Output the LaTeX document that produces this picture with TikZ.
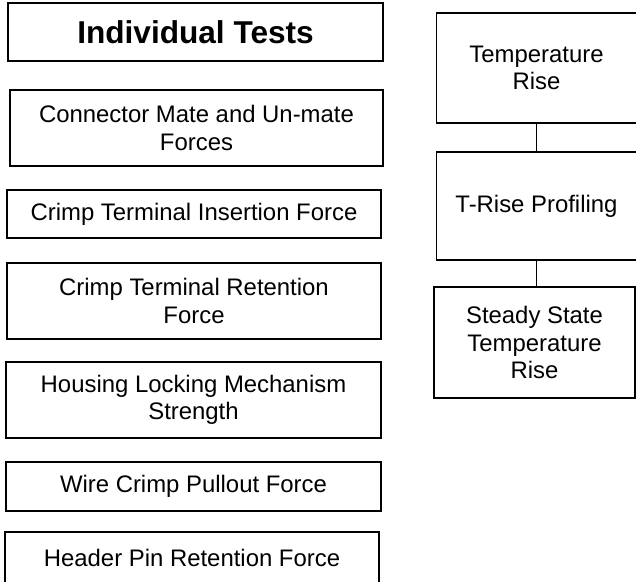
\documentclass[tikz,border=0pt]{standalone}
\usepackage{fontspec}
\setmainfont{Liberation Sans}
\begin{document}
\begin{tikzpicture}[x=1pt,y=-1pt,
  box/.style={draw=black, line width=1.6pt, rectangle, inner sep=0pt, align=center,
    font=\fontsize{23.9}{27.5}\selectfont},
  titlebox/.style={box, font=\fontsize{31.6}{36}\selectfont\bfseries},
  link/.style={draw=black, line width=1.3pt}]
\useasboundingbox (0,0) rectangle (636,581);
\clip (0,0) rectangle (636,581);
\node[titlebox, minimum width=375pt, minimum height=58pt] (title) at (195.5,32) {Individual Tests};
\node[box, minimum width=373pt, minimum height=76pt] (cm) at (196.5,128) {Connector Mate and Un-mate\\Forces};
\node[box, minimum width=374pt, minimum height=48pt] (cti) at (194,214) {Crimp Terminal Insertion Force};
\node[box, minimum width=374pt, minimum height=76pt] (ctr) at (194,301) {Crimp Terminal Retention\\Force};
\node[box, minimum width=375pt, minimum height=76pt] (hlm) at (193.5,400) {Housing Locking Mechanism\\Strength};
\node[box, minimum width=375pt, minimum height=49pt] (wcp) at (193.5,486.5) {Wire Crimp Pullout Force};
\node[box, minimum width=374pt, minimum height=52pt] (hpr) at (192,558) {Header Pin Retention Force};
\node[box, minimum width=200pt, minimum height=110pt] (ta) at (536.5,68) {Temperature\\Rise};
\node[box, minimum width=200pt, minimum height=108pt] (tp) at (536.5,206) {T-Rise Profiling};
\node[box, minimum width=201pt, minimum height=111pt] (ss) at (534.5,342.5) {Steady State\\Temperature\\Rise};
\draw[link] (ta.south) -- (tp.north);
\draw[link] (tp.south) -- (tp.south |- ss.north);
\end{tikzpicture}
\end{document}
